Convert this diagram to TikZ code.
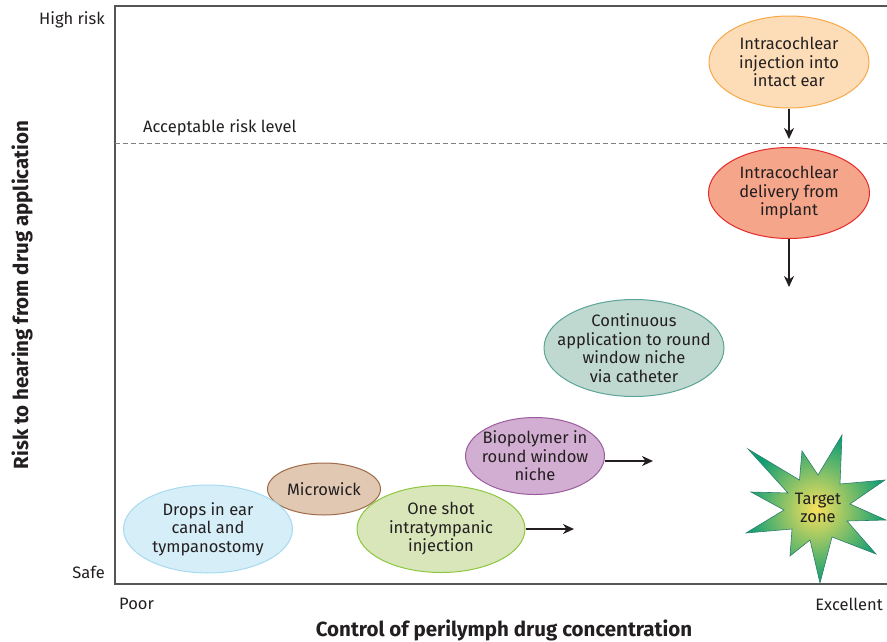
\documentclass[tikz,border=0pt]{standalone}
\usepackage{fontspec}
\setmainfont{Fira Sans}
\usetikzlibrary{shapes.geometric,arrows.meta}
\definecolor{txt}{HTML}{231F20}
\definecolor{frm}{HTML}{555555}
\definecolor{orfill}{HTML}{FDDDB8}\definecolor{ordraw}{HTML}{F6A94A}
\definecolor{rdfill}{HTML}{F5A58A}\definecolor{rddraw}{HTML}{E52A2A}
\definecolor{tlfill}{HTML}{BFD8D0}\definecolor{tldraw}{HTML}{5BA596}
\definecolor{pufill}{HTML}{D2AED2}\definecolor{pudraw}{HTML}{9B5D9E}
\definecolor{brfill}{HTML}{E1C8B2}\definecolor{brdraw}{HTML}{9E6A48}
\definecolor{blfill}{HTML}{D5EEF8}\definecolor{bldraw}{HTML}{A7DAF0}
\definecolor{gnfill}{HTML}{D8E6BA}\definecolor{gndraw}{HTML}{8DC63F}
\definecolor{stargreen}{HTML}{0E9E73}\definecolor{staryellow}{HTML}{F8E15C}
\definecolor{stardraw}{HTML}{2C7D6C}
\tikzset{
  ovaltext/.style={align=center, text=txt, inner sep=0pt,
    font=\fontsize{16.5}{18.5}\selectfont},
  oval/.style={ellipse, draw, line width=1pt, inner sep=0pt},
  lbl/.style={text=txt, font=\fontsize{16.5}{18}\selectfont, inner sep=0pt},
  axtitle/.style={text=txt, font=\fontsize{20.5}{22}\selectfont\bfseries, inner sep=0pt},
  arr/.style={-{Stealth[length=11pt,width=10pt]}, line width=2.2pt, draw=txt},
}
\begin{document}
\begin{tikzpicture}[x=1pt,y=-1pt]
\useasboundingbox (0,0) rectangle (887,641);
% frame
\draw[frm, line width=1.4pt] (887,6) -- (115,6) -- (115,584) -- (887,584);
\draw[gray, line width=0.9pt, dash pattern=on 5pt off 3pt] (115,143) -- (887,143);
% axis labels
\node[lbl, anchor=east] (hr) at (105,20) {High risk};
\node[lbl, anchor=east] (sf) at (105,572) {Safe};
\node[lbl, anchor=west] (arl) at (143,128) {Acceptable risk level};
\node[lbl, anchor=west] (pr) at (119,604) {Poor};
\node[lbl, anchor=east] (ex) at (883,604) {Excellent};
\node[axtitle] (xt) at (504,630) {Control of perilymph drug concentration};
\node[axtitle, rotate=90] (yt) at (22,295) {Risk to hearing from drug application};
% starburst
\shadedraw[inner color=staryellow, outer color=stargreen, draw=stardraw, line width=0.6pt]
 (748,449) -- (799.5,480) -- (802,451) -- (818,475) -- (842,435) -- (840,484)
 -- (885,480) -- (850,504) -- (886,520) -- (847,521) -- (876,554) -- (832,537)
 -- (820,583) -- (810,540) -- (790,556) -- (792,529) -- (746,533) -- (784,510)
 -- (751,492) -- (788,493) -- cycle;
\node[ovaltext] (target) at (818,508) {Target\\zone};
% ovals
\node[oval, fill=orfill, draw=ordraw, minimum width=160pt, minimum height=92pt,
  label={[ovaltext]center:{Intracochlear\\injection into\\intact ear}}] (inj) at (789,62) {};
\node[oval, fill=rdfill, draw=rddraw, minimum width=161pt, minimum height=91pt,
  label={[ovaltext]center:{Intracochlear\\delivery from\\implant}}] (imp) at (789,193) {};
\node[oval, fill=tlfill, draw=tldraw, minimum width=180pt, minimum height=97pt,
  label={[ovaltext]center:{Continuous\\application to round\\window niche\\via catheter}}] (cat) at (634,348) {};
\node[oval, fill=pufill, draw=pudraw, minimum width=139pt, minimum height=77pt,
  label={[ovaltext]center:{Biopolymer in\\round window\\niche}}] (bio) at (535,456) {};
\node[oval, fill=brfill, draw=brdraw, minimum width=113pt, minimum height=52pt,
  label={[ovaltext]center:{Microwick}}] (mw) at (324,489) {};
\node[oval, fill=blfill, draw=bldraw, minimum width=169pt, minimum height=88pt,
  label={[ovaltext]center:{Drops in ear\\canal and\\tympanostomy}}] (drops) at (208,529) {};
\node[oval, fill=gnfill, draw=gndraw, minimum width=168pt, minimum height=87pt,
  label={[ovaltext]center:{One shot\\intratympanic\\injection}}] (one) at (441,529) {};
% arrows
\coordinate (e1) at (789,139);
\coordinate (e2) at (789,287);
\coordinate (e3) at (653,461);
\coordinate (e4) at (574,529);
\draw[arr] (inj.south) -- (e1);
\draw[arr] (imp.south) -- (e2);
\draw[arr] (bio.east |- e3) -- (e3);
\draw[arr] (one.east |- e4) -- (e4);
\end{tikzpicture}
\end{document}
